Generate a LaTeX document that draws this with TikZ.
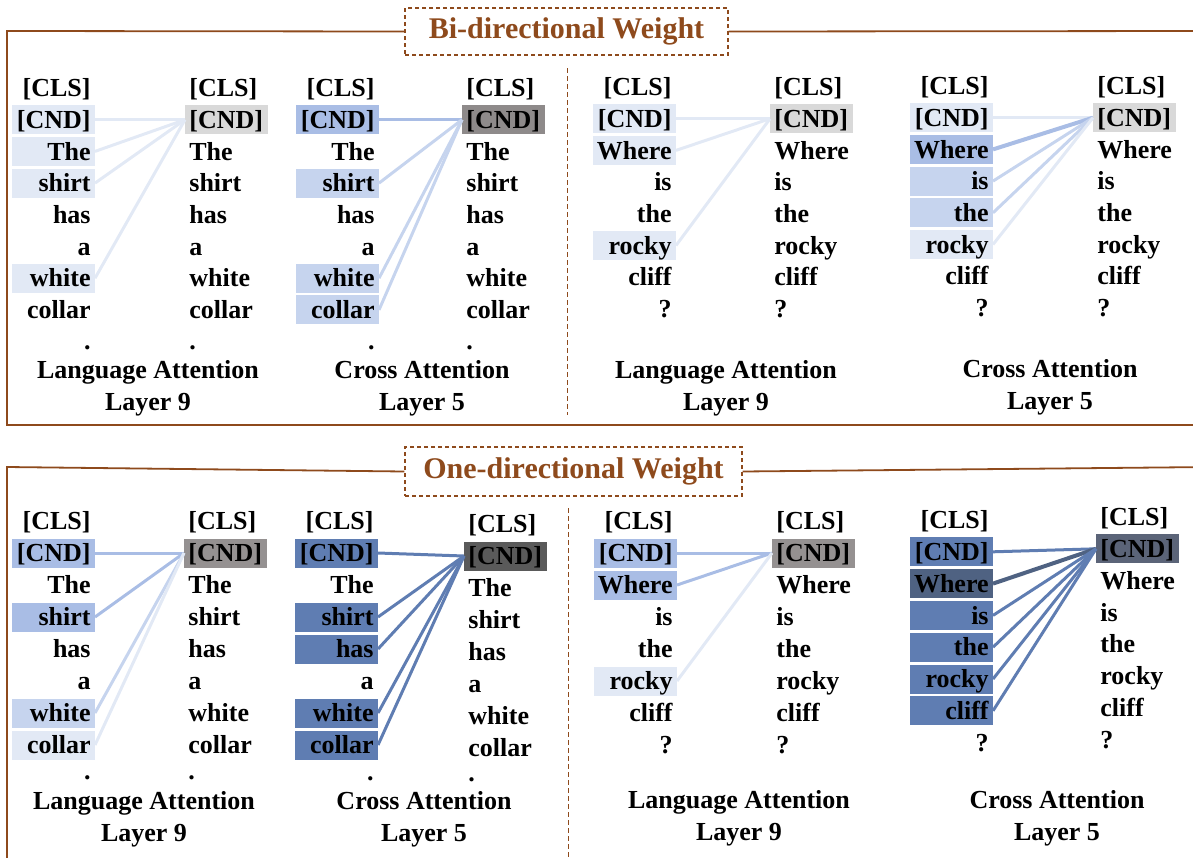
\documentclass[tikz,border=0pt]{standalone}
\usepackage{fontspec}
\setmainfont{Liberation Serif}
\newcommand\tokfont{\fontsize{13}{15}\selectfont\bfseries}
\newcommand\capfont{\fontsize{13}{16}\selectfont\bfseries}
\newcommand\ttlfont{\fontsize{15}{17}\selectfont\bfseries}
\definecolor{brn}{HTML}{8E4A1C}
\definecolor{vl}{HTML}{E2E9F5}
\definecolor{lb}{HTML}{C6D4EE}
\definecolor{mb}{HTML}{A9BDE5}
\definecolor{db}{HTML}{5F7DB2}
\definecolor{ddb}{HTML}{4F6282}
\definecolor{gA}{HTML}{D9D9D9}
\definecolor{gB}{HTML}{8E8A8A}
\definecolor{gC}{HTML}{959191}
\definecolor{gD}{HTML}{5A5A5A}
\definecolor{gE}{HTML}{5B6478}
\newcommand\tokcol[6]{%
  \foreach \w/\c [count=\i] in {#6} {
    \node[#2, fill=\c] (#1-\i) at (#3,{#4+(\i-1)*#5}) {\w};
  }}
\begin{document}
\begin{tikzpicture}[x=0.5pt,y=-0.5pt,
  tok/.style={font=\tokfont, minimum height=14.5pt, inner ysep=0pt, inner xsep=2pt,
    text width=37.5pt, text height=9.3pt, text depth=0.7pt},
  tokR/.style={tok, align=right, anchor=east},
  tokL/.style={tok, align=left, anchor=west},
  dotR/.style={tokR, minimum height=0pt},
  dotL/.style={tokL, minimum height=0pt},
  captxt/.style={font=\capfont, align=center, inner sep=0pt},
  ttl/.style={draw=brn, dash pattern=on 2pt off 1.5pt, line width=0.6pt, fill=white,
    font=\ttlfont, text=brn, inner sep=0pt},
  frame/.style={draw=brn, line width=0.9pt},
  sep/.style={draw=brn, dash pattern=on 2.5pt off 1.5pt, line width=0.5pt},
  ln/.style={line width=1.5pt, draw=#1},
  lnw/.style={line width=2pt, draw=#1}]
\useasboundingbox (0,0) rectangle (1193,857);

% ---------------- top panel ----------------
\node[ttl, minimum width=161.5pt, minimum height=23.5pt] (t1) at (566.5,31.5) {Bi-directional Weight};
\draw[frame] (t1.west) -- (7,31) -- (7,425) -- (1210,425);
\draw[frame] (t1.east) -- (1210,31);
\draw[sep] (567,68) -- (567,415);

\tokcol{TA}{tokR}{95}{88}{31.7}{[CLS]/none,[CND]/vl,The/vl,shirt/vl,has/none,a/none,white/vl,collar/none}
\tokcol{TB}{tokL}{185}{88}{31.7}{[CLS]/none,[CND]/gA,The/none,shirt/none,has/none,a/none,white/none,collar/none}
\tokcol{TC}{tokR}{379}{88}{31.7}{[CLS]/none,[CND]/mb,The/none,shirt/lb,has/none,a/none,white/lb,collar/lb}
\tokcol{TD}{tokL}{462}{88}{31.7}{[CLS]/none,[CND]/gB,The/none,shirt/none,has/none,a/none,white/none,collar/none}
\node[dotR] (TA-9) at (95,341) {.};
\node[dotL] (TB-9) at (185,341) {.};
\node[dotR] (TC-9) at (379,341) {.};
\node[dotL] (TD-9) at (462,341) {.};
\tokcol{TE}{tokR}{676}{87}{31.7}{[CLS]/none,[CND]/vl,Where/vl,is/none,the/none,rocky/vl,cliff/none,?/none}
\tokcol{TF}{tokL}{770}{87}{31.7}{[CLS]/none,[CND]/gA,Where/none,is/none,the/none,rocky/none,cliff/none,?/none}
\tokcol{TG}{tokR}{993}{86}{31.7}{[CLS]/none,[CND]/vl,Where/mb,is/lb,the/lb,rocky/vl,cliff/none,?/none}
\tokcol{TH}{tokL}{1093}{86}{31.7}{[CLS]/none,[CND]/gA,Where/none,is/none,the/none,rocky/none,cliff/none,?/none}

\foreach \r in {2,3,4,7} \draw[ln=vl] (TA-\r.east) -- (TB-2.west);
\draw[ln=mb] (TC-2.east) -- (TD-2.west);
\foreach \r in {4,7,8} \draw[ln=lb] (TC-\r.east) -- (TD-2.west);
\foreach \r in {2,3,6} \draw[ln=vl] (TE-\r.east) -- (TF-2.west);
\draw[ln=vl] (TG-2.east) -- (TH-2.west);
\draw[lnw=mb] (TG-3.east) -- (TH-2.west);
\foreach \r in {4,5} \draw[ln=lb] (TG-\r.east) -- (TH-2.west);
\draw[ln=vl] (TG-6.east) -- (TH-2.west);

\node[captxt] (tc1) at (148,388) {Language Attention\\Layer 9};
\node[captxt] (tc2) at (422,388) {Cross Attention\\Layer 5};
\node[captxt] (tc3) at (726,388) {Language Attention\\Layer 9};
\node[captxt] (tc4) at (1050,387) {Cross Attention\\Layer 5};

% ---------------- bottom panel ----------------
\node[ttl, minimum width=168.5pt, minimum height=24.5pt] (t2) at (573.5,471.5) {One-directional Weight};
\draw[frame] (t2.west) -- (7,467) -- (7,870);
\draw[frame] (t2.east) -- (1210,467);
\draw[sep] (568,508) -- (568,870);

\tokcol{BA}{tokR}{95}{521}{32}{[CLS]/none,[CND]/mb,The/none,shirt/mb,has/none,a/none,white/lb,collar/vl}
\tokcol{BB}{tokL}{184}{521}{32}{[CLS]/none,[CND]/gC,The/none,shirt/none,has/none,a/none,white/none,collar/none}
\tokcol{BC}{tokR}{378}{521}{32}{[CLS]/none,[CND]/db,The/none,shirt/db,has/db,a/none,white/db,collar/db}
\tokcol{BD}{tokL}{464}{524}{32}{[CLS]/none,[CND]/gD,The/none,shirt/none,has/none,a/none,white/none,collar/none}
\node[dotR] (BA-9) at (95,771) {.};
\node[dotL] (BB-9) at (184,771) {.};
\node[dotR] (BC-9) at (378,772) {.};
\node[dotL] (BD-9) at (464,773) {.};
\tokcol{BE}{tokR}{677}{521}{32}{[CLS]/none,[CND]/mb,Where/mb,is/none,the/none,rocky/vl,cliff/none,?/none}
\tokcol{BF}{tokL}{772}{521}{32}{[CLS]/none,[CND]/gC,Where/none,is/none,the/none,rocky/none,cliff/none,?/none}
\tokcol{BG}{tokR}{993}{520}{31.8}{[CLS]/none,[CND]/db,Where/ddb,is/db,the/db,rocky/db,cliff/db,?/none}
\tokcol{BH}{tokL}{1096}{517}{31.8}{[CLS]/none,[CND]/gE,Where/none,is/none,the/none,rocky/none,cliff/none,?/none}

\foreach \r in {2,4} \draw[ln=mb] (BA-\r.east) -- (BB-2.west);
\draw[ln=lb] (BA-7.east) -- (BB-2.west);
\draw[ln=vl] (BA-8.east) -- (BB-2.west);
\foreach \r in {2,4,5,7,8} \draw[ln=db] (BC-\r.east) -- (BD-2.west);
\foreach \r in {2,3} \draw[ln=mb] (BE-\r.east) -- (BF-2.west);
\draw[ln=vl] (BE-6.east) -- (BF-2.west);
\draw[ln=db] (BG-2.east) -- (BH-2.west);
\draw[lnw=ddb] (BG-3.east) -- (BH-2.west);
\foreach \r in {4,5,6,7} \draw[ln=db] (BG-\r.east) -- (BH-2.west);

\node[captxt] (bc1) at (144,819) {Language Attention\\Layer 9};
\node[captxt] (bc2) at (424,819) {Cross Attention\\Layer 5};
\node[captxt] (bc3) at (739,818) {Language Attention\\Layer 9};
\node[captxt] (bc4) at (1057,818) {Cross Attention\\Layer 5};
\end{tikzpicture}
\end{document}
